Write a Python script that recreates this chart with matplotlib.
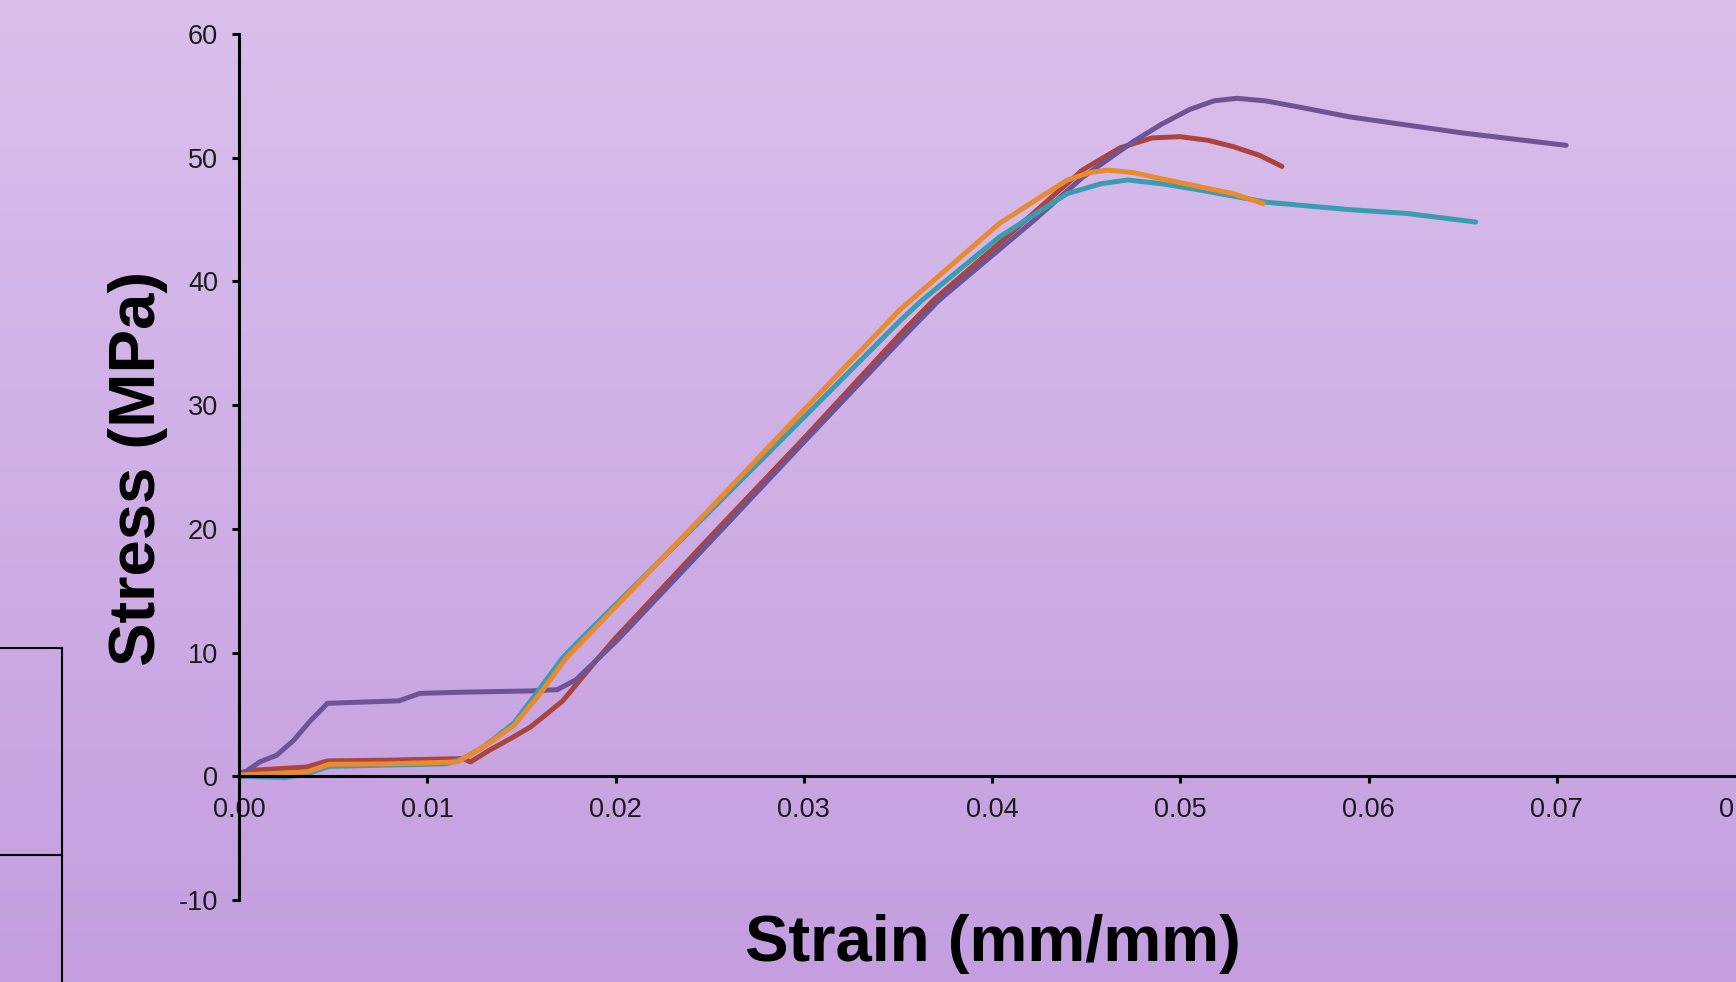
import matplotlib
matplotlib.use("Agg")
import matplotlib.pyplot as plt
import numpy as np
from matplotlib.lines import Line2D

# ---- data ----
purple_x = [0, 0.0011, 0.002, 0.0029, 0.0038, 0.0047, 0.0066, 0.0085, 0.0096, 0.0119, 0.0155,
            0.0169, 0.0179, 0.019, 0.0201, 0.025, 0.030, 0.0356, 0.0372, 0.0422, 0.0448, 0.0475,
            0.049, 0.0505, 0.0518, 0.053, 0.0545, 0.0563, 0.059, 0.065, 0.0705]
purple_y = [0, 1.16, 1.7, 2.9, 4.5, 5.9, 6.0, 6.1, 6.7, 6.8, 6.9,
            7.0, 7.8, 9.4, 11.0, 18.9, 27.0, 36.0, 38.5, 44.9, 48.4, 51.3,
            52.7, 53.9, 54.6, 54.8, 54.6, 54.1, 53.3, 52.0, 51.0]

red_x = [0, 0.0009, 0.0036, 0.0047, 0.0078, 0.0119, 0.0123, 0.0133, 0.0146, 0.0155, 0.0172,
         0.019, 0.0199, 0.025, 0.030, 0.0351, 0.0369, 0.0404, 0.0448, 0.0468, 0.0485, 0.050,
         0.0515, 0.0528, 0.0542, 0.0554]
red_y = [0.3, 0.5, 0.75, 1.24, 1.3, 1.43, 1.16, 2.1, 3.2, 4.0, 6.1,
         9.4, 11.0, 19.3, 27.3, 35.7, 38.5, 43.1, 49.0, 50.8, 51.6, 51.7,
         51.4, 50.9, 50.2, 49.3]

teal_x = [0, 0.0025, 0.0036, 0.0048, 0.0078, 0.011, 0.0119, 0.013, 0.0146, 0.0158, 0.0172,
          0.0181, 0.025, 0.030, 0.0351, 0.0363, 0.0404, 0.044, 0.0458, 0.0472, 0.049, 0.051,
          0.0546, 0.059, 0.062, 0.0657]
teal_y = [0, -0.1, 0.2, 0.8, 0.9, 1.0, 1.43, 2.4, 4.3, 6.7, 9.6,
          11.0, 21.4, 29.0, 36.8, 38.5, 43.6, 47.1, 47.9, 48.2, 47.9, 47.4,
          46.4, 45.8, 45.5, 44.8]

orange_x = [0, 0.0036, 0.0048, 0.0078, 0.0116, 0.013, 0.0146, 0.016, 0.0174, 0.0183,
            0.025, 0.030, 0.0351, 0.0404, 0.044, 0.0452, 0.0461, 0.0475, 0.0493, 0.0528, 0.0544]
orange_y = [0.1, 0.35, 0.97, 1.0, 1.16, 2.4, 4.1, 6.7, 9.6, 11.0,
            21.6, 29.6, 37.7, 44.7, 48.2, 48.8, 49.0, 48.8, 48.2, 47.1, 46.3]

x_ticks = [0.00, 0.01, 0.02, 0.03, 0.04, 0.05, 0.06, 0.07, 0.08]
x_tick_labels = ["0.00", "0.01", "0.02", "0.03", "0.04", "0.05", "0.06", "0.07", "0.08"]
y_ticks = [-10, 0, 10, 20, 30, 40, 50, 60]
y_tick_labels = ["-10", "0", "10", "20", "30", "40", "50", "60"]

x_label = "Strain (mm/mm)"
y_label = "Stress (MPa)"

# ---- figure ----
W, H = 1736, 982
fig = plt.figure(figsize=(W / 100, H / 100), dpi=100)
plt.rcParams['font.family'] = ['Liberation Sans', 'DejaVu Sans']

# background gradient
bg = fig.add_axes([0, 0, 1, 1], zorder=0)
top = np.array([217, 191, 236]) / 255.0
bot = np.array([196, 158, 223]) / 255.0
t = np.linspace(0, 1, 256)[:, None]
grad = (top[None, :] * (1 - t) + bot[None, :] * t)[:, None, :]
bg.imshow(grad, aspect='auto', extent=[0, 1, 0, 1], origin='upper')
bg.set_axis_off()

# left box artifact
lw_box = 1.5
fig.add_artist(Line2D([0, 62 / W], [1 - 648 / H, 1 - 648 / H], color='black', lw=lw_box))
fig.add_artist(Line2D([0, 62 / W], [1 - 855 / H, 1 - 855 / H], color='black', lw=lw_box))
fig.add_artist(Line2D([62 / W, 62 / W], [1 - 648 / H, 0], color='black', lw=lw_box))

left = 239 / W
right = 1745 / W
bottom = 1 - 900 / H
topy = 1 - 34 / H
ax = fig.add_axes([left, bottom, right - left, topy - bottom], zorder=1)
ax.patch.set_alpha(0)

lw = 3.6
kw = dict(lw=lw, solid_capstyle='round', solid_joinstyle='round')
ax.plot(red_x, red_y, color='#AC443D', **kw)
ax.plot(purple_x, purple_y, color='#6E5495', **kw)
ax.plot(teal_x, teal_y, color='#3A9CB2', **kw)
ax.plot(orange_x, orange_y, color='#E88A30', **kw)

ax.set_xlim(0, 0.08)
ax.set_ylim(-10, 60)
ax.spines['top'].set_visible(False)
ax.spines['right'].set_visible(False)
ax.spines['bottom'].set_position(('data', 0))
ax.spines['left'].set_position(('data', 0))
for s in ('bottom', 'left'):
    ax.spines[s].set_linewidth(2.2)
    ax.spines[s].set_color('black')

ax.set_xticks(x_ticks)
ax.set_xticklabels(x_tick_labels)
ax.set_yticks(y_ticks)
ax.set_yticklabels(y_tick_labels)
ax.tick_params(axis='both', direction='out', length=5, width=2.2, labelsize=19.5,
               colors='black')
ax.tick_params(axis='x', pad=10)
ax.tick_params(axis='y', pad=10)
for lab in ax.get_xticklabels() + ax.get_yticklabels():
    lab.set_color('#1a1a1a')

fig.text(138 / W, 1 - 468 / H, y_label, rotation=90, ha='center', va='center',
         fontsize=47, fontweight='bold', color='black')
fig.text(993 / W, 1 - 944 / H, x_label, ha='center', va='center',
         fontsize=47, fontweight='bold', color='black')

fig.savefig('out.png', dpi=100)
